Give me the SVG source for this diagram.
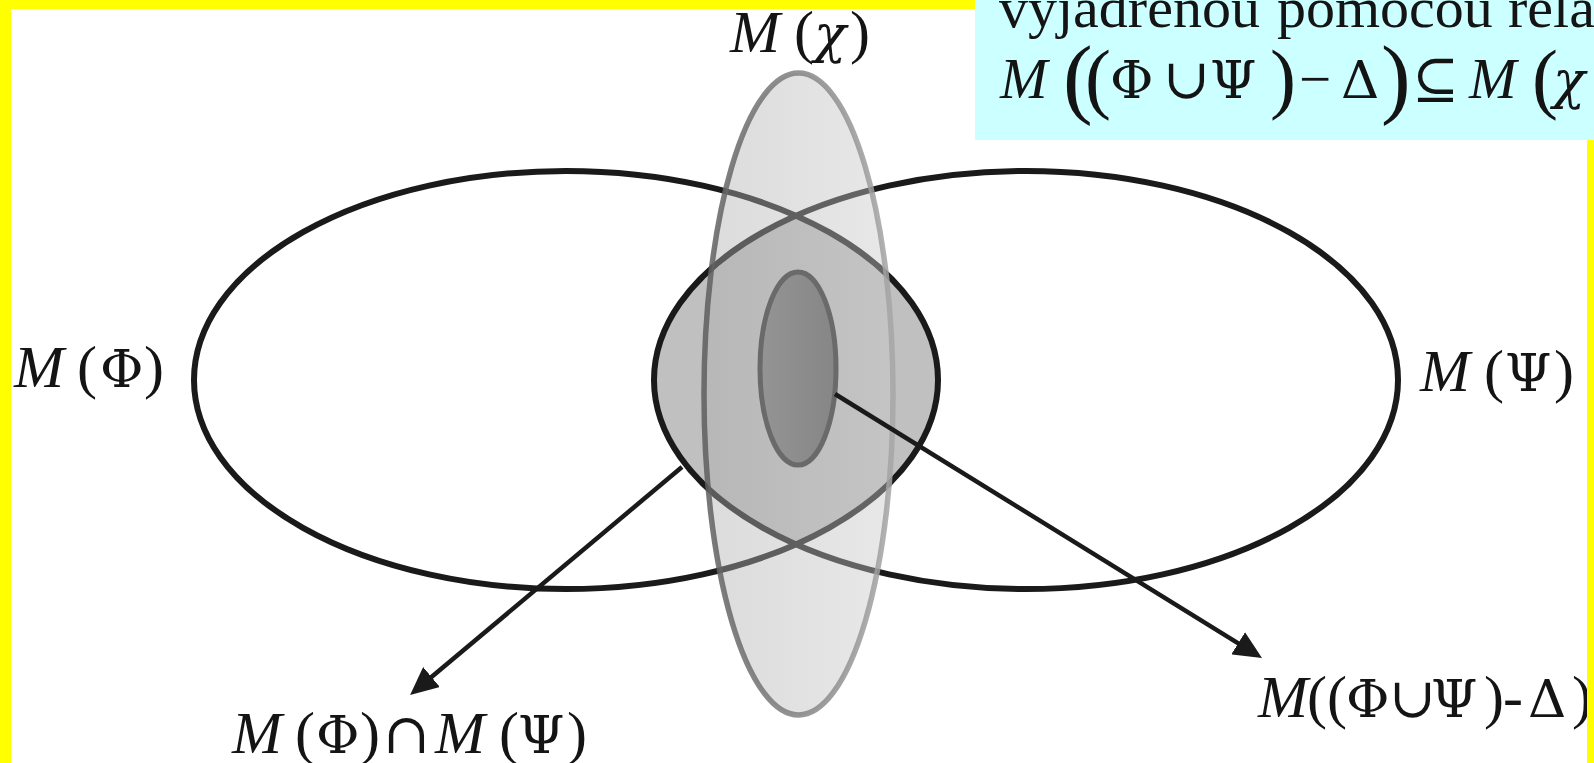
<svg xmlns="http://www.w3.org/2000/svg" width="1594" height="763" viewBox="0 0 1594 763">
<style>
.t{font-family:"Liberation Serif","DejaVu Serif",serif;fill:#141414;}
.lbl{font-size:60px;}
.it{font-style:italic;}
.g{font-family:"DejaVu Serif","Liberation Serif",serif;font-size:53px;}
.op{font-family:"DejaVu Serif","Liberation Serif",serif;font-size:56px;}
.ring{fill:none;stroke:#1a1a1a;stroke-width:6;}
.conn{stroke:#1a1a1a;stroke-width:4.5;fill:none;marker-end:url(#ah);}
</style>
<defs>
<linearGradient id="gChiFill" x1="0" y1="0" x2="1" y2="0">
<stop offset="0" stop-color="#acacac"/><stop offset="1" stop-color="#cacaca"/>
</linearGradient>
<linearGradient id="gChiStroke" x1="0" y1="0" x2="1" y2="0">
<stop offset="0" stop-color="#5e5e5e"/><stop offset="1" stop-color="#a6a6a6"/>
</linearGradient>
<linearGradient id="gIn" x1="0" y1="0" x2="1" y2="0">
<stop offset="0" stop-color="#949494"/><stop offset="1" stop-color="#868686"/>
</linearGradient>
<marker id="ah" viewBox="0 0 28 26" refX="2" refY="13" markerWidth="28" markerHeight="26" markerUnits="userSpaceOnUse" orient="auto">
<path d="M0,0 L28,13 L0,26 z" fill="#1a1a1a"/>
</marker>
</defs>
<rect width="1594" height="763" fill="#ffffff"/>

<g id="lens">
<path d="M796,215.3 A372,209 0 0 0 796,544.7 A372,209 0 0 0 796,215.3 Z" fill="#c0c0c0"/>
</g>
<g id="node-phi">
<ellipse class="ring" cx="566" cy="380" rx="372" ry="209"/>
</g>
<g id="node-psi">
<ellipse class="ring" cx="1026" cy="380" rx="372" ry="209"/>
</g>
<g id="node-chi">
<ellipse cx="798.5" cy="394" rx="94.5" ry="321" fill="url(#gChiFill)" fill-opacity="0.43" stroke="url(#gChiStroke)" stroke-width="5.5" stroke-opacity="0.85"/>
</g>
<g id="node-delta">
<ellipse cx="798" cy="368.5" rx="38" ry="96.5" fill="url(#gIn)" stroke="#6a6a6a" stroke-width="5"/>
</g>

<g id="connectors">
<line class="conn" x1="682" y1="467" x2="430" y2="678.3"/>
<line class="conn" x1="835" y1="394" x2="1239.9" y2="644.3"/>
</g>

<g id="label-chi">
<text class="t lbl" y="52"><tspan class="it" x="730">M</tspan><tspan x="794">(</tspan><tspan class="g it" x="814">χ</tspan><tspan x="850">)</tspan></text>
</g>
<g id="label-phi">
<text class="t lbl" y="387"><tspan class="it" x="14">M</tspan><tspan x="77">(</tspan><tspan class="g" x="100">Φ</tspan><tspan x="144">)</tspan></text>
</g>
<g id="label-psi">
<text class="t lbl" y="391"><tspan class="it" x="1420">M</tspan><tspan x="1484">(</tspan><tspan class="g" x="1505">Ψ</tspan><tspan x="1554">)</tspan></text>
</g>
<g id="label-intersection">
<text class="t lbl" y="753"><tspan class="it" x="232">M</tspan><tspan x="295">(</tspan><tspan class="g" x="316">Φ</tspan><tspan x="360">)</tspan><tspan class="op" x="383">∩</tspan><tspan class="it" x="435">M</tspan><tspan x="499">(</tspan><tspan class="g" x="518">Ψ</tspan><tspan x="567">)</tspan></text>
</g>
<g id="label-union-minus">
<text class="t lbl" y="717"><tspan class="it" x="1258">M</tspan><tspan x="1307">(</tspan><tspan x="1327">(</tspan><tspan class="g" x="1346">Φ</tspan><tspan class="op" x="1389">∪</tspan><tspan class="g" x="1431">Ψ</tspan><tspan x="1484">)</tspan><tspan x="1503">-</tspan><tspan class="g" x="1528">Δ</tspan><tspan x="1572">)</tspan></text>
</g>

<g id="note">
<rect x="975" y="0" width="619" height="140" fill="#ccffff"/>
<text class="t" font-size="58" y="27"><tspan x="999">vyjadrenou</tspan><tspan x="1277">pomocou</tspan><tspan x="1508">rela</tspan></text>
<text class="t" font-size="57">
<tspan class="it" x="1000" y="98">M</tspan>
<tspan x="1063" y="107" font-size="89">(</tspan>
<tspan x="1085" y="104" font-size="78">(</tspan>
<tspan class="g" x="1110" y="98">Φ</tspan>
<tspan class="op" x="1163" y="98">∪</tspan>
<tspan class="g" x="1210" y="98">Ψ</tspan>
<tspan x="1270" y="104" font-size="78">)</tspan>
<tspan x="1299" y="98">−</tspan>
<tspan class="g" x="1341" y="98">Δ</tspan>
<tspan x="1381" y="107" font-size="89">)</tspan>
<tspan class="op" x="1412" y="98">⊆</tspan>
<tspan class="it" x="1469" y="98">M</tspan>
<tspan x="1532" y="104" font-size="78">(</tspan>
<tspan class="g it" x="1553" y="98">χ</tspan>
</text>
</g>

<g id="frame" fill="#ffff00">
<rect x="0" y="0" width="975" height="9"/>
<rect x="0" y="0" width="11" height="763"/>
<rect x="1587" y="140" width="7" height="623"/>
</g>
</svg>
